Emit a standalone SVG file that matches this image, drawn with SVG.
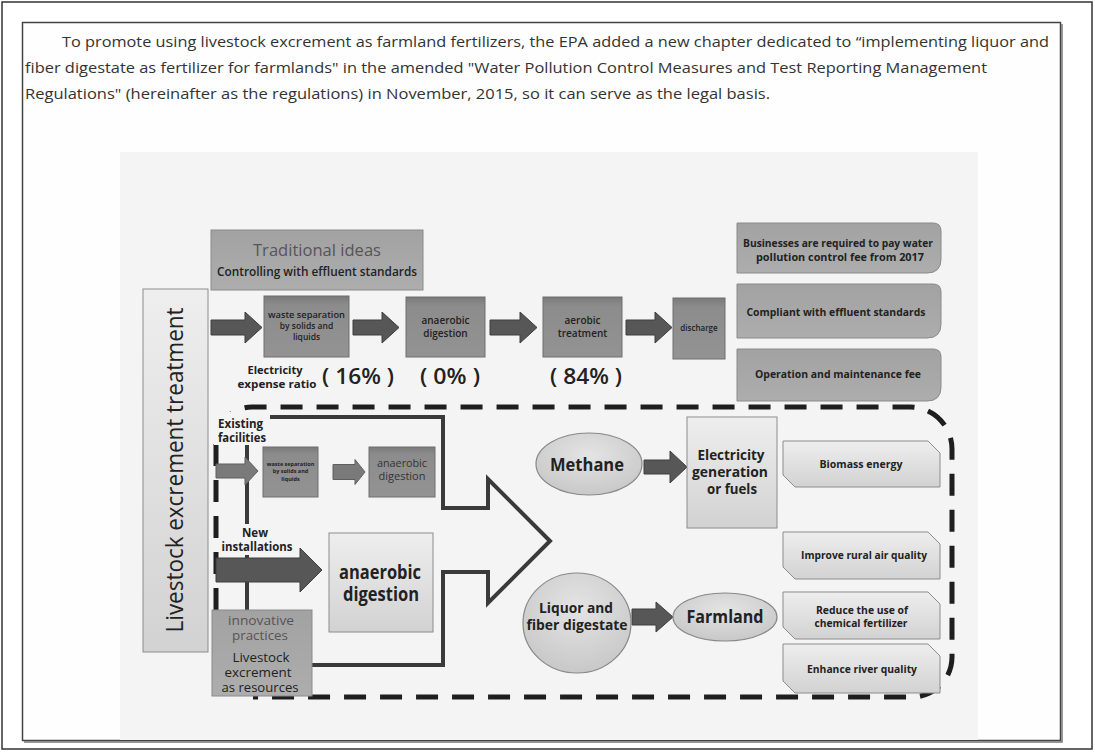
<svg xmlns="http://www.w3.org/2000/svg" width="1095" height="752" viewBox="0 0 1095 752">
<defs>
<linearGradient id="gDark" x1="0" y1="0" x2="0" y2="1"><stop offset="0" stop-color="#7a7a7a"/><stop offset="0.15" stop-color="#8c8c8c"/><stop offset="1" stop-color="#939393"/></linearGradient>
<linearGradient id="gMid" x1="0" y1="0" x2="0" y2="1"><stop offset="0" stop-color="#a2a2a2"/><stop offset="1" stop-color="#adadad"/></linearGradient>
<linearGradient id="gLight" x1="0" y1="0" x2="0" y2="1"><stop offset="0" stop-color="#eeeeee"/><stop offset="1" stop-color="#d2d2d2"/></linearGradient>
<radialGradient id="gEll" cx="0.5" cy="0.35" r="0.7"><stop offset="0" stop-color="#e4e4e4"/><stop offset="1" stop-color="#c6c6c6"/></radialGradient>
<style>
text{font-family:"Open Sans","Liberation Sans",sans-serif;fill:#222}
.para{font-size:15px;fill:#333}
.box-d{fill:url(#gDark);stroke:#6e6e6e;stroke-width:1}
.box-m{fill:url(#gMid);stroke:#8a8a8a;stroke-width:1}
.box-l{fill:url(#gLight);stroke:#8c8c8c;stroke-width:1}
.ell{fill:url(#gEll);stroke:#888;stroke-width:1.2}
.arr-d{fill:#575757;stroke:#3e3e3e;stroke-width:1}
.arr-m{fill:#7a7a7a;stroke:#5e5e5e;stroke-width:1}
.bg{fill:#f4f4f4}
.b{font-weight:700}
.s{font-weight:600}
.c{text-anchor:middle}
</style>
</defs>
<rect width="1095" height="752" fill="#ffffff"/>
<rect x="2" y="2" width="1090" height="747" fill="none" stroke="#333" stroke-width="1.5"/>
<rect x="22.5" y="22.5" width="1038" height="718" fill="#fefefe" stroke="#444" stroke-width="1.5"/>
<path d="M1062,24 V742 H24" fill="none" stroke="#777" stroke-width="1.5"/>

<g id="paragraph">
<text class="para" x="62" y="47" textLength="987" lengthAdjust="spacingAndGlyphs">To promote using livestock excrement as farmland fertilizers, the EPA added a new chapter dedicated to “implementing liquor and</text>
<text class="para" x="25" y="73" textLength="962" lengthAdjust="spacingAndGlyphs">fiber digestate as fertilizer for farmlands" in the amended "Water Pollution Control Measures and Test Reporting Management</text>
<text class="para" x="25" y="99" textLength="745" lengthAdjust="spacingAndGlyphs">Regulations" (hereinafter as the regulations) in November, 2015, so it can serve as the legal basis.</text>
</g>

<rect id="panel" x="120" y="152" width="858" height="588" fill="#f4f4f4"/>

<g id="connectors">
<path d="M216,610 V443 A36,36 0 0 1 252,407 H910 A42,42 0 0 1 952,449 V657 A40,40 0 0 1 912,697 H253" fill="none" stroke="#1e1e1e" stroke-width="5" stroke-dasharray="22 14"/>
<path d="M247,610 V417 H443 V508 H488 V479 L550,541 L488,603 V572 H443 V665 H312" fill="none" stroke="#3a3a3a" stroke-width="4" stroke-linejoin="miter"/>
<path class="arr-d" d="M211,320 H245 V312 L262,327.5 L245,343 V335 H211 Z"/>
<path class="arr-d" d="M353,320 H382 V312 L399,327.5 L382,343 V335 H353 Z"/>
<path class="arr-d" d="M490,320 H520 V312 L537,327.5 L520,343 V335 H490 Z"/>
<path class="arr-d" d="M626,320 H655 V312 L672,327.5 L655,343 V335 H626 Z"/>
<path class="arr-m" d="M216,464 H245 V457 L258,471 L245,485 V478 H216 Z"/>
<path class="arr-m" d="M333,464.5 H355 V459.5 L365,472 L355,484.5 V479.5 H333 Z"/>
<path class="arr-d" d="M216,558 H300 V548 L322,570 L300,592 V582 H216 Z"/>
<path class="arr-d" d="M644,460 H670 V451 L687,467 L670,483 V474 H644 Z"/>
<path class="arr-d" d="M632,609 H656 V602 L673,617 L656,632 V625 H632 Z"/>
</g>

<g id="n-livestock">
<rect class="box-l" x="143" y="289" width="65" height="363"/>
<text class="c" transform="translate(183,470) rotate(-90)" font-size="24" font-weight="500" fill="#333" textLength="325" lengthAdjust="spacingAndGlyphs">Livestock excrement treatment</text>
</g>

<g id="n-traditional">
<rect class="box-m" x="211" y="230" width="212" height="60"/>
<text class="c" x="317" y="256" font-size="15.5" style="fill:#555" textLength="128" lengthAdjust="spacingAndGlyphs">Traditional ideas</text>
<text class="c s" x="317" y="276" font-size="12" textLength="200" lengthAdjust="spacingAndGlyphs">Controlling with effluent standards</text>
</g>

<g id="n-sep1">
<rect class="box-d" x="264" y="296" width="85" height="61"/>
<text class="c s" x="306.5" y="318" font-size="8.5" textLength="77" lengthAdjust="spacingAndGlyphs">waste separation</text>
<text class="c s" x="306.5" y="329" font-size="8.5">by solids and</text>
<text class="c s" x="306.5" y="340" font-size="8.5">liquids</text>
</g>
<g id="n-anaer1">
<rect class="box-d" x="406" y="297" width="79" height="60"/>
<text class="c s" x="445.5" y="324" font-size="10">anaerobic</text>
<text class="c s" x="445.5" y="337" font-size="10">digestion</text>
</g>
<g id="n-aerobic">
<rect class="box-d" x="543" y="297" width="79" height="60"/>
<text class="c s" x="582.5" y="324" font-size="10">aerobic</text>
<text class="c s" x="582.5" y="337" font-size="10">treatment</text>
</g>
<g id="n-discharge">
<rect class="box-d" x="673" y="298" width="52" height="61"/>
<text class="c s" x="699" y="331" font-size="8">discharge</text>
</g>

<g id="ratio">
<text class="c b" x="275" y="374" font-size="10.5" textLength="55" lengthAdjust="spacingAndGlyphs">Electricity</text>
<text class="c b" x="277" y="388" font-size="10.5" textLength="79" lengthAdjust="spacingAndGlyphs">expense ratio</text>
<text class="c" x="358" y="384" font-size="21" font-weight="600" textLength="72" lengthAdjust="spacingAndGlyphs">( 16% )</text>
<text class="c" x="450" y="384" font-size="21" font-weight="600" textLength="60" lengthAdjust="spacingAndGlyphs">( 0% )</text>
<text class="c" x="586" y="384" font-size="21" font-weight="600" textLength="72" lengthAdjust="spacingAndGlyphs">( 84% )</text>
</g>

<g id="n-fee">
<path class="box-m" d="M737,223 H933 Q941,223 941,231 V259 Q941,273 927,273 H737 Z"/>
<text class="c b" x="838" y="247" font-size="10.5" textLength="190" lengthAdjust="spacingAndGlyphs">Businesses are required to pay water</text>
<text class="c b" x="840" y="261" font-size="10.5" textLength="168" lengthAdjust="spacingAndGlyphs">pollution control fee from 2017</text>
</g>
<g id="n-compliant">
<path class="box-m" d="M737,284 H933 Q941,284 941,292 V324 Q941,338 927,338 H737 Z"/>
<text class="c b" x="836" y="316" font-size="11" textLength="179" lengthAdjust="spacingAndGlyphs">Compliant with effluent standards</text>
</g>
<g id="n-operation">
<path class="box-m" d="M737,349 H933 Q941,349 941,357 V387 Q941,401 927,401 H737 Z"/>
<text class="c b" x="838" y="378" font-size="11" textLength="166" lengthAdjust="spacingAndGlyphs">Operation and maintenance fee</text>
</g>

<g id="n-existing-label">
<rect class="bg" x="214" y="412" width="56" height="33"/>
<text class="b" x="218" y="428" font-size="11.5" textLength="45" lengthAdjust="spacingAndGlyphs">Existing</text>
<text class="b" x="218" y="442" font-size="11.5" textLength="48" lengthAdjust="spacingAndGlyphs">facilities</text>
</g>
<g id="n-sep2">
<rect class="box-d" x="263" y="447" width="55" height="50"/>
<text class="c b" x="290.5" y="466" font-size="5.5">waste separation</text>
<text class="c b" x="290.5" y="473" font-size="5.5">by solids and</text>
<text class="c b" x="290.5" y="481" font-size="5.5">liquids</text>
</g>
<g id="n-anaer2">
<rect class="box-d" x="369" y="447" width="66" height="50"/>
<text class="c" x="402" y="467" font-size="11" style="fill:#333" textLength="50" lengthAdjust="spacingAndGlyphs">anaerobic</text>
<text class="c" x="402" y="480" font-size="11" style="fill:#333">digestion</text>
</g>

<g id="n-new-label">
<rect class="bg" x="220" y="524" width="76" height="31"/>
<text class="c b" x="255" y="537" font-size="11.5">New</text>
<text class="c b" x="257" y="551" font-size="11.5" textLength="71" lengthAdjust="spacingAndGlyphs">installations</text>
</g>
<g id="n-anaer3">
<rect class="box-l" x="329" y="533" width="104" height="99"/>
<text class="c b" x="380" y="579" font-size="19.5" textLength="82" lengthAdjust="spacingAndGlyphs">anaerobic</text>
<text class="c b" x="381" y="601" font-size="19.5" textLength="76" lengthAdjust="spacingAndGlyphs">digestion</text>
</g>

<g id="n-innovative">
<rect class="box-m" x="212" y="610" width="100" height="86"/>
<text class="c" x="261" y="625" font-size="13.5" style="fill:#555" textLength="66" lengthAdjust="spacingAndGlyphs">innovative</text>
<text class="c" x="260" y="640" font-size="13.5" style="fill:#555" textLength="56" lengthAdjust="spacingAndGlyphs">practices</text>
<text class="c" x="261" y="662" font-size="13" textLength="57" lengthAdjust="spacingAndGlyphs">Livestock</text>
<text class="c" x="258" y="677" font-size="13" textLength="67" lengthAdjust="spacingAndGlyphs">excrement</text>
<text class="c" x="260" y="692" font-size="13" textLength="77" lengthAdjust="spacingAndGlyphs">as resources</text>
</g>

<g id="n-methane">
<ellipse class="ell" cx="589" cy="464" rx="53" ry="31"/>
<text class="c b" x="587" y="471" font-size="17" textLength="74" lengthAdjust="spacingAndGlyphs">Methane</text>
</g>
<g id="n-electricity">
<rect class="box-l" x="687" y="417" width="90" height="111"/>
<text class="c b" x="731" y="460" font-size="15" textLength="67" lengthAdjust="spacingAndGlyphs">Electricity</text>
<text class="c b" x="730" y="477" font-size="15" textLength="76" lengthAdjust="spacingAndGlyphs">generation</text>
<text class="c b" x="732" y="494" font-size="15" textLength="50" lengthAdjust="spacingAndGlyphs">or fuels</text>
</g>
<g id="n-liquor">
<ellipse class="ell" cx="577" cy="623" rx="54" ry="50"/>
<text class="c b" x="576" y="613" font-size="14.5" textLength="74" lengthAdjust="spacingAndGlyphs">Liquor and</text>
<text class="c b" x="577" y="630" font-size="14.5" textLength="101" lengthAdjust="spacingAndGlyphs">fiber digestate</text>
</g>
<g id="n-farmland">
<ellipse class="ell" cx="725" cy="617" rx="52" ry="24"/>
<text class="c b" x="725" y="623" font-size="17" textLength="77" lengthAdjust="spacingAndGlyphs">Farmland</text>
</g>

<g id="n-biomass">
<path class="box-l" d="M783,441 H928 L940,453 V487 H795 L783,475 Z"/>
<text class="c b" x="861" y="468" font-size="11" textLength="83" lengthAdjust="spacingAndGlyphs">Biomass energy</text>
</g>
<g id="n-air">
<path class="box-l" d="M783,532 H928 L940,544 V579 H795 L783,567 Z"/>
<text class="c b" x="864" y="559" font-size="11" textLength="126" lengthAdjust="spacingAndGlyphs">Improve rural air quality</text>
</g>
<g id="n-reduce">
<path class="box-l" d="M783,592 H928 L940,604 V639 H795 L783,627 Z"/>
<text class="c b" x="862" y="614" font-size="10.5" textLength="92" lengthAdjust="spacingAndGlyphs">Reduce the use of</text>
<text class="c b" x="861" y="627" font-size="10.5" textLength="93" lengthAdjust="spacingAndGlyphs">chemical fertilizer</text>
</g>
<g id="n-river">
<path class="box-l" d="M783,644 H928 L940,656 V693 H795 L783,681 Z"/>
<text class="c b" x="862" y="673" font-size="11" textLength="110" lengthAdjust="spacingAndGlyphs">Enhance river quality</text>
</g>
</svg>
